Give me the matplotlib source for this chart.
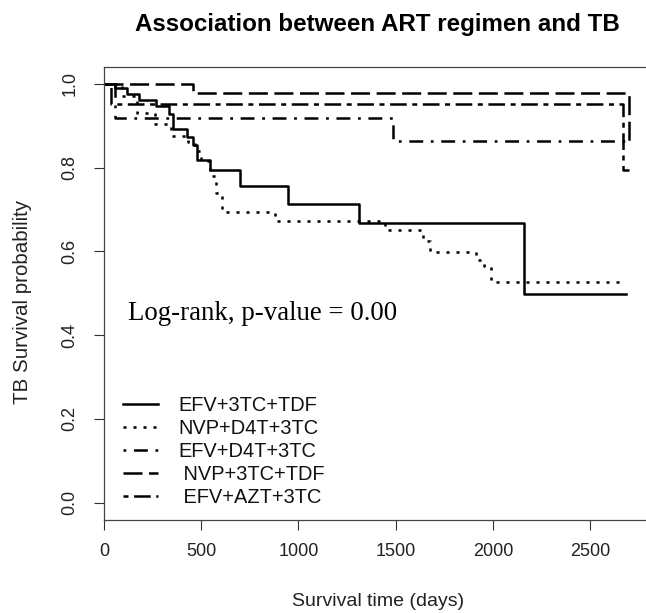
import matplotlib
matplotlib.use("Agg")
import matplotlib.pyplot as plt

plt.rcParams['font.family'] = ['Liberation Sans', 'DejaVu Sans']
plt.rcParams['lines.scale_dashes'] = False

# ---- data ----
groups = ['EFV+3TC+TDF', 'NVP+D4T+3TC', 'EFV+D4T+3TC', ' NVP+3TC+TDF', ' EFV+AZT+3TC']

efv_3tc_tdf_time = [0, 57, 117, 182, 267, 336, 353, 428, 459, 480, 545, 699, 947, 1312, 2158, 2686]
efv_3tc_tdf_surv = [1.0, 0.990, 0.976, 0.961, 0.946, 0.927, 0.891, 0.873, 0.855, 0.819, 0.793,
                    0.757, 0.714, 0.667, 0.499, 0.499]

nvp_d4t_3tc_time = [0, 90, 170, 260, 345, 430, 470, 500, 545, 575, 605, 879, 1444, 1641, 1675,
                    1915, 1955, 1992, 2686]
nvp_d4t_3tc_surv = [1.0, 0.97, 0.93, 0.905, 0.875, 0.862, 0.84, 0.815, 0.78, 0.74, 0.694, 0.673,
                    0.651, 0.625, 0.598, 0.58, 0.564, 0.528, 0.528]

efv_d4t_3tc_time = [0, 57, 1487, 2695]
efv_d4t_3tc_surv = [1.0, 0.919, 0.863, 0.863]

nvp_3tc_tdf_time = [0, 459, 2700, 2700]
nvp_3tc_tdf_surv = [1.0, 0.977, 0.86, 0.86]

efv_azt_3tc_time = [0, 35, 2670, 2700]
efv_azt_3tc_surv = [1.0, 0.952, 0.795, 0.795]

x_ticks = [0, 500, 1000, 1500, 2000, 2500]
y_ticks = [0.0, 0.2, 0.4, 0.6, 0.8, 1.0]
y_tick_labels = ['0.0', '0.2', '0.4', '0.6', '0.8', '1.0']

title = 'Association between ART regimen and TB'
xlabel = 'Survival time (days)'
ylabel = 'TB Survival probability'
annot = 'Log-rank, p-value = 0.00'

# ---- figure ----
W, H = 646, 613
fig = plt.figure(figsize=(W / 100, H / 100), dpi=100)
left, right, top, bottom = 104, 650, 67, 519.5
ax = fig.add_axes([left / W, 1 - bottom / H, (right - left) / W, (bottom - top) / H])

lw = 1.8
series = [
    (efv_3tc_tdf_time, efv_3tc_tdf_surv, (0, ())),
    (nvp_d4t_3tc_time, nvp_d4t_3tc_surv, (0, (2.2, 5.0))),
    (efv_d4t_3tc_time, efv_d4t_3tc_surv, (0, (2.0, 5.5, 10.0, 5.5))),
    (nvp_3tc_tdf_time, nvp_3tc_tdf_surv, (0, (13.7, 4.7))),
    (efv_azt_3tc_time, efv_azt_3tc_surv, (0, (3.6, 4.0, 12.0, 4.0))),
]
for (t, s, ls), name in zip(series, groups):
    ax.plot(t, s, drawstyle='steps-post', color='black', lw=lw,
            linestyle=ls if ls[1] else '-', dash_capstyle='butt', label=name)

ax.set_xlim(0, 2808)
ax.set_ylim(-0.04, 1.04)
ax.set_xticks(x_ticks)
ax.set_xticklabels([str(v) for v in x_ticks])
ax.set_yticks(y_ticks)
ax.set_yticklabels(y_tick_labels, rotation=90, va='center')
ax.tick_params(axis='both', direction='out', length=7.5, width=0.8, color='#333333',
               labelsize=13, colors='#222222')
ax.tick_params(axis='x', pad=9.5)
ax.tick_params(axis='y', pad=11)
for sp in ax.spines.values():
    sp.set_color('#444444')
    sp.set_linewidth(0.9)

ax.text(123, 0.437, annot, family=['Liberation Serif', 'DejaVu Serif'], fontsize=19.4,
        ha='left', va='baseline', color='black')

leg = ax.legend(loc='upper left', bbox_to_anchor=((123 - left) / (right - left), (bottom - 396) / (bottom - top)),
                frameon=False, fontsize=14.4, handlelength=1.75, handletextpad=1.0,
                labelspacing=0.2, borderpad=0, borderaxespad=0)
for txt in leg.get_texts():
    txt.set_color('#111111')

fig.text(377 / W, 1 - 24 / H, title, ha='center', va='center', fontsize=17.4, fontweight='bold')
fig.text(378 / W, 1 - 601 / H, xlabel, ha='center', va='center', fontsize=14, color='#222222')
fig.text(23 / W, 1 - 302 / H, ylabel, ha='center', va='center', rotation=90, fontsize=14.8,
         color='#222222')

fig.savefig('out.png', dpi=100)
